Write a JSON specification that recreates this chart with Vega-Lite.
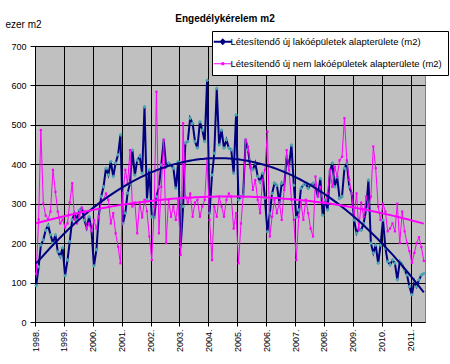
{
  "$schema": "https://vega.github.io/schema/vega-lite/v6.json",
  "width": 390,
  "height": 276,
  "autosize": "none",
  "padding": {"left": 35, "top": 46, "right": 25, "bottom": 42},
  "background": "white",
  "title": {"text": "Engedélykérelem m2", "fontSize": 10, "fontWeight": "bold", "font": "Liberation Sans", "color": "#000", "anchor": "middle", "dx": -5, "offset": -13, "baseline": "alphabetic"},
  "data": {
    "values": [
      {"d":"1998-01-16","a":92,"b":122},{"d":"1998-02-16","a":140,"b":260},{"d":"1998-03-16","a":195,"b":487},{"d":"1998-04-16","a":208,"b":300},{"d":"1998-05-16","a":233,"b":270},{"d":"1998-06-16","a":245,"b":260},{"d":"1998-07-16","a":221,"b":280},{"d":"1998-08-16","a":200,"b":386},{"d":"1998-09-16","a":221,"b":330},{"d":"1998-10-16","a":178,"b":280},{"d":"1998-11-16","a":166,"b":250},{"d":"1998-12-16","a":188,"b":260},
      {"d":"1999-01-16","a":117,"b":240},{"d":"1999-02-16","a":157,"b":250},{"d":"1999-03-16","a":204,"b":303},{"d":"1999-04-16","a":259,"b":352},{"d":"1999-05-16","a":276,"b":260},{"d":"1999-06-16","a":259,"b":250},{"d":"1999-07-16","a":284,"b":270},{"d":"1999-08-16","a":289,"b":290},{"d":"1999-09-16","a":259,"b":280},{"d":"1999-10-16","a":239,"b":237},{"d":"1999-11-16","a":267,"b":250},{"d":"1999-12-16","a":233,"b":230},
      {"d":"2000-01-16","a":142,"b":259},{"d":"2000-02-16","a":183,"b":237},{"d":"2000-03-16","a":267,"b":267},{"d":"2000-04-16","a":318,"b":303},{"d":"2000-05-16","a":343,"b":310},{"d":"2000-06-16","a":390,"b":326},{"d":"2000-07-16","a":373,"b":310},{"d":"2000-08-16","a":407,"b":250},{"d":"2000-09-16","a":369,"b":276},{"d":"2000-10-16","a":403,"b":225},{"d":"2000-11-16","a":424,"b":191},{"d":"2000-12-16","a":475,"b":149},
      {"d":"2001-01-16","a":250,"b":326},{"d":"2001-02-16","a":276,"b":386},{"d":"2001-03-16","a":327,"b":352},{"d":"2001-04-16","a":352,"b":436},{"d":"2001-05-16","a":436,"b":293},{"d":"2001-06-16","a":372,"b":303},{"d":"2001-07-16","a":410,"b":225},{"d":"2001-08-16","a":420,"b":303},{"d":"2001-09-16","a":377,"b":265},{"d":"2001-10-16","a":546,"b":310},{"d":"2001-11-16","a":310,"b":281},{"d":"2001-12-16","a":386,"b":217},
      {"d":"2002-01-16","a":267,"b":157},{"d":"2002-02-16","a":265,"b":293},{"d":"2002-03-16","a":318,"b":584},{"d":"2002-04-16","a":343,"b":225},{"d":"2002-05-16","a":398,"b":343},{"d":"2002-06-16","a":462,"b":462},{"d":"2002-07-16","a":394,"b":200},{"d":"2002-08-16","a":403,"b":310},{"d":"2002-09-16","a":398,"b":267},{"d":"2002-10-16","a":390,"b":293},{"d":"2002-11-16","a":339,"b":259},{"d":"2002-12-16","a":407,"b":310},
      {"d":"2003-01-16","a":190,"b":170},{"d":"2003-02-16","a":293,"b":504},{"d":"2003-03-16","a":454,"b":318},{"d":"2003-04-16","a":458,"b":303},{"d":"2003-05-16","a":517,"b":326},{"d":"2003-06-16","a":504,"b":267},{"d":"2003-07-16","a":458,"b":303},{"d":"2003-08-16","a":441,"b":310},{"d":"2003-09-16","a":508,"b":267},{"d":"2003-10-16","a":487,"b":293},{"d":"2003-11-16","a":458,"b":310},{"d":"2003-12-16","a":613,"b":415},
      {"d":"2004-01-16","a":276,"b":259},{"d":"2004-02-16","a":373,"b":157},{"d":"2004-03-16","a":428,"b":293},{"d":"2004-04-16","a":593,"b":267},{"d":"2004-05-16","a":449,"b":318},{"d":"2004-06-16","a":487,"b":293},{"d":"2004-07-16","a":441,"b":267},{"d":"2004-08-16","a":462,"b":310},{"d":"2004-09-16","a":441,"b":326},{"d":"2004-10-16","a":437,"b":318},{"d":"2004-11-16","a":377,"b":237},{"d":"2004-12-16","a":525,"b":276},
      {"d":"2005-01-16","a":310,"b":149},{"d":"2005-02-16","a":318,"b":250},{"d":"2005-03-16","a":322,"b":318},{"d":"2005-04-16","a":462,"b":462},{"d":"2005-05-16","a":437,"b":445},{"d":"2005-06-16","a":390,"b":394},{"d":"2005-07-16","a":386,"b":335},{"d":"2005-08-16","a":403,"b":360},{"d":"2005-09-16","a":369,"b":310},{"d":"2005-10-16","a":356,"b":276},{"d":"2005-11-16","a":377,"b":360},{"d":"2005-12-16","a":314,"b":386},
      {"d":"2006-01-16","a":229,"b":483},{"d":"2006-02-16","a":276,"b":217},{"d":"2006-03-16","a":326,"b":267},{"d":"2006-04-16","a":352,"b":310},{"d":"2006-05-16","a":347,"b":276},{"d":"2006-06-16","a":303,"b":303},{"d":"2006-07-16","a":352,"b":259},{"d":"2006-08-16","a":343,"b":335},{"d":"2006-09-16","a":419,"b":436},{"d":"2006-10-16","a":394,"b":386},{"d":"2006-11-16","a":449,"b":310},{"d":"2006-12-16","a":347,"b":259},
      {"d":"2007-01-16","a":265,"b":157},{"d":"2007-02-16","a":284,"b":267},{"d":"2007-03-16","a":339,"b":303},{"d":"2007-04-16","a":347,"b":259},{"d":"2007-05-16","a":352,"b":310},{"d":"2007-06-16","a":339,"b":276},{"d":"2007-07-16","a":347,"b":237},{"d":"2007-08-16","a":352,"b":217},{"d":"2007-09-16","a":343,"b":369},{"d":"2007-10-16","a":318,"b":318},{"d":"2007-11-16","a":364,"b":343},{"d":"2007-12-16","a":271,"b":303},
      {"d":"2008-01-16","a":310,"b":303},{"d":"2008-02-16","a":284,"b":326},{"d":"2008-03-16","a":381,"b":386},{"d":"2008-04-16","a":403,"b":343},{"d":"2008-05-16","a":343,"b":394},{"d":"2008-06-16","a":368,"b":369},{"d":"2008-07-16","a":314,"b":410},{"d":"2008-08-16","a":318,"b":419},{"d":"2008-09-16","a":390,"b":517},{"d":"2008-10-16","a":403,"b":410},{"d":"2008-11-16","a":343,"b":360},{"d":"2008-12-16","a":326,"b":326},
      {"d":"2009-01-16","a":259,"b":267},{"d":"2009-02-16","a":225,"b":326},{"d":"2009-03-16","a":237,"b":233},{"d":"2009-04-16","a":233,"b":303},{"d":"2009-05-16","a":250,"b":267},{"d":"2009-06-16","a":284,"b":318},{"d":"2009-07-16","a":360,"b":293},{"d":"2009-08-16","a":200,"b":318},{"d":"2009-09-16","a":175,"b":445},{"d":"2009-10-16","a":195,"b":390},{"d":"2009-11-16","a":149,"b":293},{"d":"2009-12-16","a":195,"b":259},
      {"d":"2010-01-16","a":259,"b":300},{"d":"2010-02-16","a":187,"b":280},{"d":"2010-03-16","a":153,"b":230},{"d":"2010-04-16","a":145,"b":237},{"d":"2010-05-16","a":157,"b":250},{"d":"2010-06-16","a":149,"b":230},{"d":"2010-07-16","a":107,"b":300},{"d":"2010-08-16","a":153,"b":200},{"d":"2010-09-16","a":145,"b":280},{"d":"2010-10-16","a":132,"b":230},{"d":"2010-11-16","a":119,"b":200},{"d":"2010-12-16","a":90,"b":180},
      {"d":"2011-01-16","a":69,"b":150},{"d":"2011-02-16","a":104,"b":175},{"d":"2011-03-16","a":90,"b":200},{"d":"2011-04-16","a":107,"b":215},{"d":"2011-05-16","a":119,"b":190},{"d":"2011-06-16","a":123,"b":155}
    ],
    "format": {"parse": {"d": "date"}}
  },
  "transform": [{"fold": ["a", "b"], "as": ["k", "v"]}],
  "encoding": {
    "x": {
      "field": "d", "type": "temporal",
      "scale": {"type": "utc", "domain": [{"year": 1998, "month": 1, "date": 1, "utc": true}, {"year": 2011, "month": 7, "date": 1, "utc": true}], "nice": false},
      "axis": {"title": null, "format": "%Y.", "tickCount": {"interval": "year", "step": 1}, "labelAngle": 270, "labelAlign": "right", "labelBaseline": "middle", "labelPadding": 3, "tickSize": 4, "labelOverlap": false, "labelFlush": false}
    },
    "y": {
      "field": "v", "type": "quantitative",
      "scale": {"domain": [0, 700], "nice": false},
      "axis": {"values": [0, 100, 200, 300, 400, 500, 600, 700], "title": "ezer m2", "titleAngle": 0, "titleX": -30, "titleY": -19, "titleAlign": "left", "titleBaseline": "alphabetic", "titleFontWeight": "normal", "titleFontSize": 10, "tickSize": 5, "labelPadding": 4}
    }
  },
  "layer": [
    {
      "transform": [{"filter": "datum.k === 'a'"}],
      "mark": {"type": "line", "strokeWidth": 2, "interpolate": "linear"},
      "encoding": {
        "color": {
          "field": "k", "type": "nominal",
          "scale": {"domain": ["a", "b"], "range": ["#000080", "#FF00FF"]},
          "legend": {
            "title": null, "orient": "none", "legendX": 177, "legendY": -15,
            "fillColor": "white", "strokeColor": "#000", "padding": 6,
            "labelFontSize": 9.5, "labelFont": "Liberation Sans", "labelColor": "#000", "labelOffset": 3, "labelLimit": 300,
            "symbolSize": 324, "rowPadding": 10,
            "labelExpr": "datum.value === 'a' ? 'Létesítendő új lakóépületek alapterülete (m2)' : 'Létesítendő új nem lakóépületek alapterülete (m2)'",
            "encode": {"symbols": {"update": {
              "shape": {"signal": "datum.value === 'a' ? 'M-1,0H1M0,-0.22L0.22,0L0,0.22L-0.22,0Z' : 'M-1,0H1M-0.11,-0.11H0.11V0.11H-0.11Z'"},
              "fill": {"signal": "datum.value === 'a' ? '#4AA8B0' : '#FF00FF'"},
              "strokeWidth": {"signal": "datum.value === 'a' ? 2 : 1"}
            }}}
          }
        }
      }
    },
    {
      "transform": [{"filter": "datum.k === 'a'"}],
      "mark": {"type": "point", "shape": "diamond", "filled": true, "size": 16, "color": "#4AA8B0", "opacity": 1},
      "encoding": {}
    },
    {
      "transform": [{"filter": "datum.k === 'b'"}],
      "mark": {"type": "line", "strokeWidth": 1},
      "encoding": {"color": {"field": "k", "type": "nominal"}}
    },
    {
      "transform": [{"filter": "datum.k === 'b'"}],
      "mark": {"type": "point", "shape": "square", "filled": true, "size": 5, "color": "#FF00FF", "opacity": 1},
      "encoding": {}
    },
    {
      "transform": [{"regression": "v", "on": "d", "groupby": ["k"], "method": "poly", "order": 2}],
      "mark": {"type": "line", "strokeWidth": 2},
      "encoding": {"color": {"field": "k", "type": "nominal"}}
    }
  ],
  "config": {
    "font": "Liberation Sans",
    "view": {"fill": "#C0C0C0", "stroke": "#808080", "strokeWidth": 1},
    "axis": {"grid": true, "gridColor": "#000000", "gridOpacity": 1, "gridWidth": 1, "domainColor": "#000000", "tickColor": "#000000", "labelColor": "#000000", "labelFontSize": 9, "labelFont": "Liberation Sans", "titleColor": "#000000", "titleFont": "Liberation Sans"}
  }
}
